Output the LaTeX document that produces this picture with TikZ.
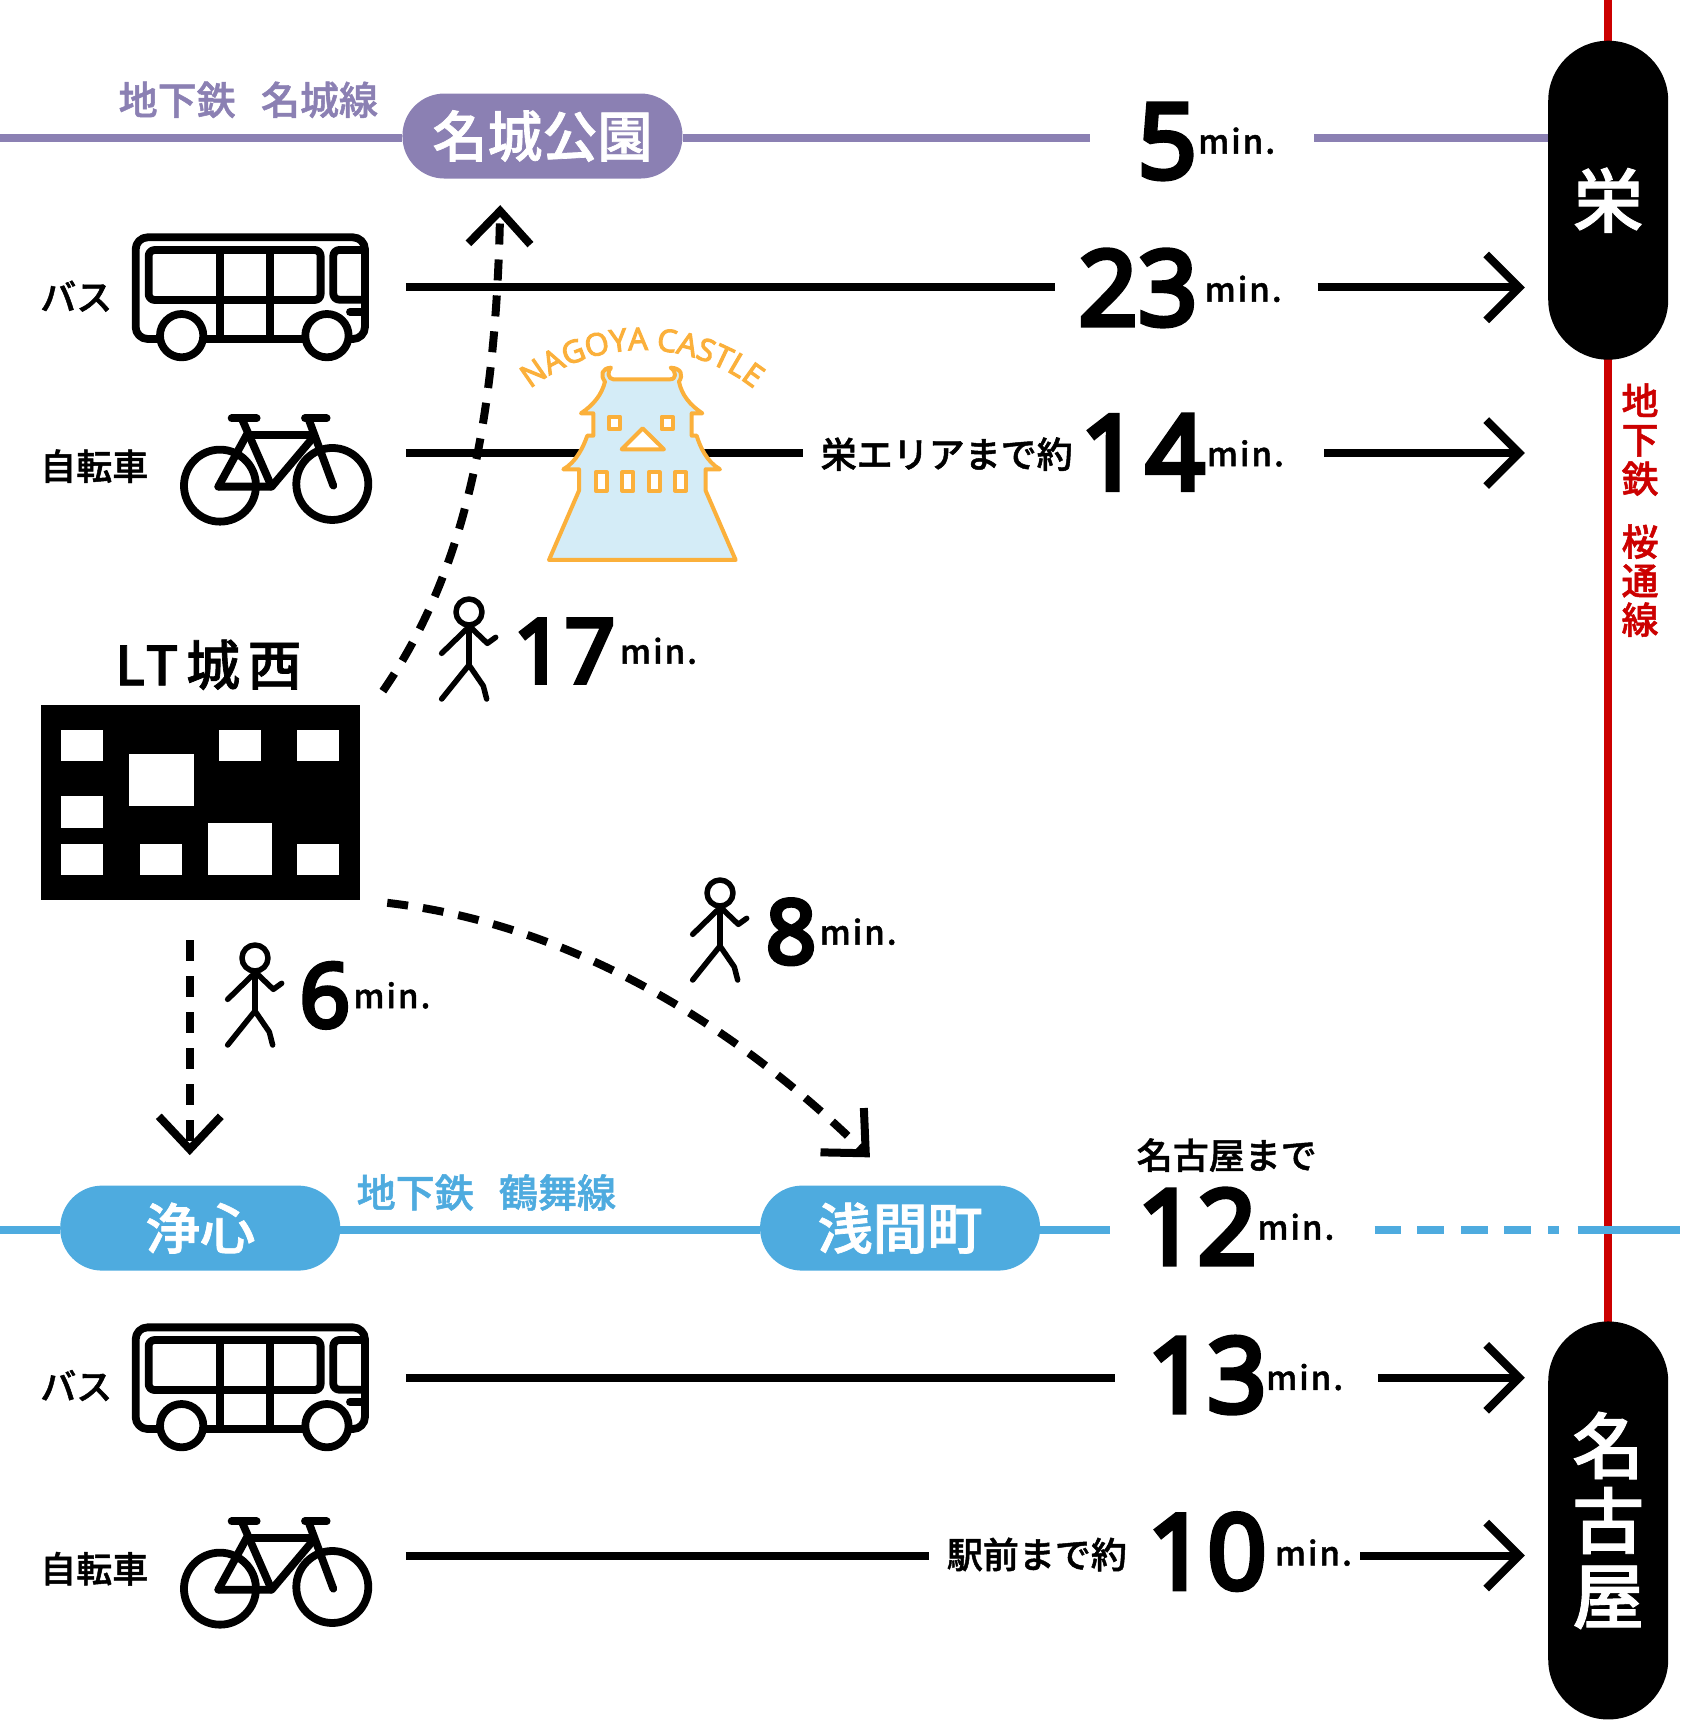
\documentclass[tikz,border=0pt]{standalone}
\usepackage{fontspec}
\usetikzlibrary{arrows.meta,decorations.text}
\setmainfont{Noto Sans CJK JP}
\newfontfamily\jpm{Noto Sans CJK JP Medium}[FakeBold=1.3]
\newfontfamily\numfont{Open Sans}[FakeBold=5.5]
\newfontfamily\castlefont{Open Sans}[FakeBold=3.5]
\newcommand\fsz[1]{\fontsize{#1}{#1}\selectfont}
\definecolor{meijo}{HTML}{8B80B3}
\definecolor{tsuru}{HTML}{4EABDF}
\definecolor{sakura}{HTML}{CC0000}
\definecolor{castleline}{HTML}{FBB03B}
\definecolor{castlefill}{HTML}{D4ECF7}
\tikzset{
  rail/.style={line width=8pt},
  route/.style={line width=8pt,black},
  routearrow/.style={route,-{Straight Barb[length=33pt,width=66pt]}},
  walkline/.style={line width=8pt,black,dash pattern=on 21pt off 15pt,-{Straight Barb[length=33pt,width=62pt,line width=0pt 1]}},
  stnpill/.style={rounded corners=42pt,text=white,font=\jpm\fsz{55},minimum width=280pt,minimum height=85pt,inner sep=0pt},
  termpill/.style={fill=black,rounded corners=60pt,text=white,font=\jpm\fsz{70},minimum width=120pt,inner sep=0pt,align=center},
  lbl/.style={inner sep=0pt,anchor=west,font=\jpm\fsz{36}},
  bignum/.style={inner sep=0pt,anchor=base west,font=\numfont\fsz{103}\addfontfeature{LetterSpace=1}},
  midnum/.style={inner sep=0pt,anchor=base west,font=\numfont\fsz{88}\addfontfeature{LetterSpace=1}},
  minlbl/.style={inner sep=0pt,anchor=base west,font=\jpm\fsz{33}\addfontfeature{LetterSpace=6}},
  icon/.style={line width=7.8pt,black,line cap=round,line join=round}
}
\newcommand\busicon[1]{%
\begin{scope}[shift={(0pt,{-(#1)*1pt-200pt})},x=0.3333pt,y=-0.3333pt,icon]
  \draw[rounded corners=12pt] (1095,270) -- (1095,112) -- (407,112) -- (407,417) -- (1095,417) -- cycle;
  \draw[rounded corners=6pt] (446,150) rectangle (962,300);
  \draw (660,150) -- (660,417);
  \draw (811,150) -- (811,417);
  \draw[rounded corners=6pt] (1095,150) -- (1000,150) -- (1000,299) -- (1095,299);
  \draw (1050,336) -- (1095,336);
  \draw[fill=white] (545,407) circle[radius=65];
  \draw[fill=white] (981,407) circle[radius=65];
\end{scope}}
\newcommand\bikeicon[1]{%
\begin{scope}[shift={(0pt,{-(#1)*1pt-200pt})},x=0.3333pt,y=-0.3333pt,icon]
  \draw (660,857) circle[radius=108];
  \draw (997,852) circle[radius=108];
  \draw (695,655) -- (770,655);
  \draw (915,655) -- (980,655);
  \draw (725,655) -- (815,860);
  \draw (925,655) -- (1000,857);
  \draw (740,705) -- (940,705);
  \draw (655,860) -- (740,705);
  \draw (655,860) -- (815,860) -- (940,712);
\end{scope}}
\newcommand\walker[2]{%
\begin{scope}[shift={({(#1)*1pt+380pt},{-(#2)*1pt-580pt})},x=0.3333pt,y=-0.3333pt,line width=5.5pt,black,line cap=round,line join=round]
  \draw (267,96) circle[radius=39];
  \draw (267,135) -- (267,255);
  \draw (262,145) -- (185,220);
  \draw (275,145) -- (322,190) -- (347,172);
  \draw (185,357) -- (267,255) -- (310,318) -- (320,357);
\end{scope}}
\begin{document}
\begin{tikzpicture}[x=1.097pt,y=-1.097pt]
\useasboundingbox (0,0) rectangle (1531.45,1567.9);
\fill[white] (0,0) rectangle (1531.45,1567.9);

% named free ends
\coordinate (redtop) at (1465.4,0);
\coordinate (redbot) at (1465.4,1230);
\coordinate (pl) at (0,126);
\coordinate (pa) at (994,126);
\coordinate (pb) at (1198,126);
\coordinate (pr) at (1420,126);
\coordinate (bl) at (0,1121);
\coordinate (ba) at (1012,1121);

% rail lines
\draw[rail,sakura] (redtop) -- (redbot);

\node[stnpill,fill=meijo] (meijokoen) at (494.5,124) {名城公園};
\node[stnpill,fill=tsuru] (joshin) at (182.5,1119.5) {浄心};
\node[stnpill,fill=tsuru] (sengen) at (820.5,1119.5) {浅間町};

\draw[rail,meijo] (pl) -- (meijokoen.west |- pl);
\draw[rail,meijo] (meijokoen.east |- pa) -- (pa);
\draw[rail,meijo] (pb) -- (pr);
\draw[rail,tsuru] (bl) -- (joshin.west |- bl);
\draw[rail,tsuru] (joshin.east |- bl) -- (sengen.west |- bl);
\draw[rail,tsuru] (sengen.east |- bl) -- (ba);
\draw[rail,tsuru] (1253,1121) -- (1277,1121) (1292,1121) -- (1316,1121) (1332,1121) -- (1356,1121) (1371,1121) -- (1396,1121) (1411,1121) -- (1421,1121) (1438,1121) -- (1531.45,1121);

\node[termpill,minimum height=319pt] (sakae) at (1466,182.5) {栄};
\node[termpill,minimum height=398pt,font=\jpm\fontsize{72}{75}\selectfont] (nagoya) at (1466,1386) {名\\古\\屋};

% line names
\node[lbl,text=meijo,font=\jpm\fsz{39}] (ln1) at (108,91) {地下鉄\hspace{0.65em}名城線};
\node[lbl,text=tsuru,font=\jpm\fsz{39}] (ln2) at (325,1087) {地下鉄\hspace{0.65em}鶴舞線};
\node[inner sep=0pt,text=sakura,font=\jpm\fontsize{37}{39}\selectfont,align=center] (ln3) at (1495,465) {地\\下\\鉄\\[24pt]桜\\通\\線};

% routes
\coordinate (r1a) at (370,262); \coordinate (r1b) at (962,262);
\coordinate (r1c) at (1201,262); \coordinate (r1d) at (1390,262);
\coordinate (r2a) at (370,413); \coordinate (r2b) at (732,413);
\coordinate (r2c) at (1207,413); \coordinate (r2d) at (1390,413);
\coordinate (r3a) at (370,1256); \coordinate (r3b) at (1016,1256);
\coordinate (r3c) at (1256,1256); \coordinate (r3d) at (1390,1256);
\coordinate (r4a) at (370,1418); \coordinate (r4b) at (847,1418);
\coordinate (r4c) at (1240,1418); \coordinate (r4d) at (1390,1418);
\draw[route] (r1a) -- (r1b);
\draw[routearrow] (r1c) -- (r1d);
\draw[route] (r2a) -- (r2b);
\draw[routearrow] (r2c) -- (r2d);
\draw[route] (r3a) -- (r3b);
\draw[routearrow] (r3c) -- (r3d);
\draw[route] (r4a) -- (r4b);
\draw[routearrow] (r4c) -- (r4d);

% castle
\begin{scope}[shift={(480pt,-300pt)},x=0.3333pt,y=-0.3333pt,line width=4pt,draw=castleline,line join=round]
  \draw[fill=castlefill] (207,780) -- (297,572) -- (297,508) -- (250,508)
    .. controls (290,485) and (310,440) .. (322,407) -- (340,407) -- (340,340) -- (303,340)
    .. controls (340,315) and (365,285) .. (375,245)
    .. controls (360,225) and (365,205) .. (393,203)
    .. controls (380,215) and (385,238) .. (400,238) -- (570,238)
    .. controls (590,238) and (590,215) .. (572,203)
    .. controls (605,205) and (610,225) .. (597,245)
    .. controls (605,285) and (630,315) .. (667,340) -- (635,340) -- (635,407) -- (650,407)
    .. controls (660,440) and (680,485) .. (720,508) -- (677,508) -- (677,572) -- (767,780) -- cycle;
  \draw[fill=white] (388,350) rectangle (420,388);
  \draw[fill=white] (545,350) rectangle (578,388);
  \draw[fill=white] (425,448) -- (488,385) -- (552,448) -- cycle;
  \draw[fill=white] (347,517) rectangle (380,572);
  \draw[fill=white] (427,517) rectangle (460,572);
  \draw[fill=white] (506,517) rectangle (539,572);
  \draw[fill=white] (585,517) rectangle (618,572);
\end{scope}
\begin{scope}[x=1pt,y=1pt,shift={(642pt,-530pt)}]
  \path[decorate,decoration={text along path,text align=center,raise=0pt,
    text={|\castlefont\fsz{31}\color{castleline}|NAGOYA CASTLE}}]
    (150:180) arc[start angle=150,end angle=30,radius=180];
\end{scope}

% icons
\busicon{0}
\bikeicon{0}
\busicon{1090}
\bikeicon{1103}
\walker{0}{0}
\walker{251}{281}
\walker{-214}{346}

% building
\node[fill=black,inner sep=0pt,minimum width=319.2pt,minimum height=194.2pt] (lt) at (182.5,731.5) {};
\foreach \xa/\ya/\xb/\yb in {56/665/94/694,118/687/177/735,200/665/238/694,271/665/309/694,56/726/94/755,56/769/94/798,128/769/166/798,190/750/248/798,271/769/309/798}
  \fill[white] (\xa,\ya) rectangle (\xb,\yb);
\node[inner sep=0pt,font=\jpm\fsz{54}\addfontfeature{LetterSpace=14}] (ltname) at (190,606) {LT城西};

% walking connectors
\coordinate (w1a) at (349,630); \coordinate (w1b) at (456,187);
\coordinate (w2a) at (353,823); \coordinate (w2b) at (793,1055);
\coordinate (w3a) at (173,857); \coordinate (w3b) at (173,1053);
\draw[walkline] (w1a) .. controls (425,520) and (452,380) .. (w1b);
\draw[walkline] (w2a) .. controls (500,840) and (650,915) .. (w2b);
\draw[walkline] (w3a) -- (w3b);

% small labels
\node[lbl] (bus1) at (36.5,270) {バス};
\node[lbl] (bike1) at (36.5,425) {自転車};
\node[lbl] (bus2) at (36.5,1263) {バス};
\node[lbl] (bike2) at (36.5,1430) {自転車};
\node[lbl] (t1) at (748,414) {栄エリアまで約};
\node[lbl] (t2) at (863,1417) {駅前まで約};
\node[lbl] (t3) at (1036,1053) {名古屋まで};

% times
\node[bignum] (n5) at (1037,162) {5};
\node[minlbl] (m5) at (1092,140) {min.};
\node[bignum] (n23) at (983,296) {23};
\node[minlbl] (m23) at (1098,275) {min.};
\node[bignum] (n14) at (985,446) {1\hspace{0.06em}4};
\node[minlbl] (m14) at (1100,425) {min.};
\node[midnum] (n17) at (468,622) {17};
\node[minlbl] (m17) at (565,605) {min.};
\node[midnum] (n8) at (698,878) {8};
\node[minlbl] (m8) at (747,861) {min.};
\node[midnum] (n6) at (273,936) {6};
\node[minlbl] (m6) at (322,919) {min.};
\node[bignum] (n12) at (1037,1152) {12};
\node[minlbl] (m12) at (1146,1130) {min.};
\node[bignum] (n13) at (1046,1287) {13};
\node[minlbl] (m13) at (1154,1267) {min.};
\node[bignum] (n10) at (1046,1448) {10};
\node[minlbl] (m10) at (1162,1427) {min.};
\end{tikzpicture}
\end{document}
